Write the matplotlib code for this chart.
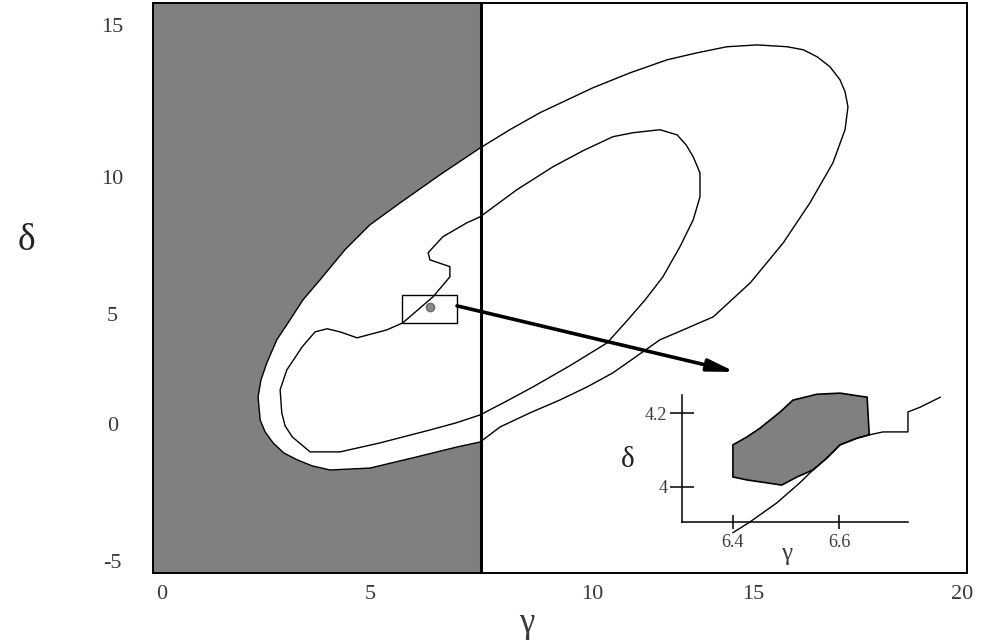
import numpy as np
import matplotlib
matplotlib.use("Agg")
import matplotlib.pyplot as plt

plt.rcParams['font.family'] = ['Liberation Serif', 'DejaVu Serif']

# ejes principales: gamma (x) y delta (y)
gamma_ticks = [0, 5, 10, 15, 20]
delta_ticks = [-5, 0, 5, 10, 15]
gamma_frontera = 7.5

# contorno exterior (region admisible)
ext_g = [12.83, 12.11, 11.40, 10.65, 9.89, 9.28, 8.60, 7.93, 7.48, 6.96, 6.06, 5.00, 4.04,
         3.61, 3.25, 2.93, 2.67, 2.48, 2.36, 2.31, 2.38, 2.52, 2.76, 3.08, 3.39, 3.80, 4.40,
         5.00, 5.68, 6.58, 7.48, 8.15, 8.83, 9.44, 10.03, 11.18, 12.33, 13.26, 14.19, 15.10,
         15.81, 16.20, 16.53, 16.84, 17.08, 17.20, 17.27, 17.20, 16.91, 16.36, 15.72, 14.91,
         13.76]
ext_d = [4.27, 3.82, 3.09, 2.32, 1.68, 1.09, 0.50, -0.11, -0.66, -0.84, -1.20, -1.61, -1.68,
         -1.53, -1.31, -1.06, -0.69, -0.29, 0.18, 1.23, 2.00, 2.77, 3.82, 4.73, 5.51, 6.24, 7.34,
         8.25, 9.05, 10.07, 10.95, 11.55, 12.11, 12.53, 12.93, 13.42, 13.85, 14.08, 14.28, 14.34,
         14.28, 14.18, 13.95, 13.62, 13.19, 12.80, 12.30, 11.55, 10.46, 9.05, 7.59, 6.13,
         4.86]

# contorno interior
int_g = [5.74, 6.42, 6.80, 6.80, 6.35, 6.31, 6.64, 7.18, 7.48, 8.31, 9.12, 9.80, 10.65, 11.27,
         12.11, 12.64, 12.92, 13.14, 13.35, 13.35, 13.14, 12.73, 12.20, 11.65, 11.06, 10.47,
         9.50, 8.67, 8.09, 7.48, 6.94, 6.35, 5.23, 4.28, 3.56, 3.13, 2.96, 2.88, 2.84, 3.00,
         3.37, 3.68, 3.97, 4.28, 4.69, 5.38]
int_d = [4.59, 5.62, 6.35, 6.72, 6.97, 7.23, 7.81, 8.32, 8.54, 9.53, 10.33, 10.86, 11.32, 11.45,
         11.55, 11.38, 11.05, 10.66, 10.13, 9.27, 8.43, 7.45, 6.35, 5.51, 4.64, 3.68,
         2.64, 1.68, 1.05, 0.41, 0.05, -0.22, -0.69, -1.02, -1.02, -0.47, -0.07, 0.50, 1.55, 2.45,
         3.50, 4.18, 4.32, 4.18, 3.91, 4.27]

# zona ampliada
caja_g = (5.72, 6.96)
caja_d = (4.59, 5.69)
punto = (6.35, 5.26)
flecha_ini = (6.96, 5.29)
flecha_fin = (14.44, 2.36)

# detalle ampliado
det_g_ticks = [6.4, 6.6]
det_d_ticks = [4.0, 4.2]
mancha_g = [6.400, 6.426, 6.451, 6.489, 6.513, 6.558, 6.602, 6.653, 6.657, 6.634, 6.602,
            6.577, 6.551, 6.521, 6.492, 6.464, 6.426, 6.400]
mancha_d = [4.114, 4.135, 4.159, 4.203, 4.235, 4.251, 4.254, 4.243, 4.141, 4.132, 4.114,
            4.078, 4.046, 4.027, 4.005, 4.011, 4.019, 4.027]
curva_g = [6.400, 6.432, 6.483, 6.526, 6.551, 6.577, 6.602, 6.634, 6.657, 6.683, 6.730,
           6.730, 6.753, 6.791]
curva_d = [3.876, 3.905, 3.957, 4.011, 4.046, 4.078, 4.114, 4.132, 4.141, 4.149, 4.149,
           4.203, 4.216, 4.243]

# las marcas del eje original no estan equiespaciadas
gamma_sep = [0, 5.2, 10.75, 14.78, 20]
delta_sep = [-5, 0.11, 4.22, 9.33, 15]


def tramos(src, dst):
    src = np.asarray(src, float)
    dst = np.asarray(dst, float)
    m0 = (dst[1] - dst[0]) / (src[1] - src[0])
    m1 = (dst[-1] - dst[-2]) / (src[-1] - src[-2])

    def f(v):
        v = np.asarray(v, float)
        out = np.interp(v, src, dst)
        out = np.where(v < src[0], dst[0] + (v - src[0]) * m0, out)
        out = np.where(v > src[-1], dst[-1] + (v - src[-1]) * m1, out)
        return out
    return f


gris = '#808080'
texto = '#3a3a3a'

fig = plt.figure(figsize=(9.82, 6.43), dpi=100)
ax = fig.add_axes([0.1558, 0.1089, 0.8289, 0.8865])
ax.set_xscale('function', functions=(tramos(gamma_ticks, gamma_sep), tramos(gamma_sep, gamma_ticks)))
ax.set_yscale('function', functions=(tramos(delta_ticks, delta_sep), tramos(delta_sep, delta_ticks)))
ax.set_xlim(-0.216, 20.12)
ax.set_ylim(-5.44, 15.72)

# zona gris a la izquierda de la frontera, salvo dentro del contorno exterior
ax.axvspan(-1, gamma_frontera, color=gris, zorder=0, lw=0)
ax.fill(ext_g, ext_d, color='white', zorder=1, lw=0)
ax.fill(ext_g, ext_d, fill=False, edgecolor='black', lw=1.0, zorder=2)
ax.fill(int_g, int_d, fill=False, edgecolor='black', lw=1.0, zorder=2)
ax.axvline(gamma_frontera, color='black', lw=2.2, zorder=3)

ax.add_patch(plt.Rectangle((caja_g[0], caja_d[0]), caja_g[1] - caja_g[0], caja_d[1] - caja_d[0],
                           fill=False, edgecolor='black', lw=1.0, zorder=4))
ax.plot(*punto, 'o', ms=6, color='#8a8a8a', mec='#6a6a6a', zorder=4)
ax.annotate('', xy=flecha_fin, xytext=flecha_ini,
            arrowprops=dict(arrowstyle='-|>,head_length=0.8,head_width=0.18', lw=2.6,
                            color='black', mutation_scale=20, shrinkA=0, shrinkB=0), zorder=5)

ax.set_xticks(gamma_ticks)
ax.set_yticks(delta_ticks)
ax.set_xticklabels([str(v) for v in gamma_ticks])
ax.set_yticklabels([str(v) for v in delta_ticks])
ax.tick_params(length=0, labelsize=16, labelcolor=texto)
ax.tick_params(axis='x', pad=9)
ax.tick_params(axis='y', pad=29)
for t in ax.get_yticklabels():
    t.set_horizontalalignment('center')
for s in ax.spines.values():
    s.set_linewidth(1.4)

ax.set_xlabel('γ', fontsize=25, color=texto, va='center')
ax.xaxis.set_label_coords(0.4595, -0.088)
ax.set_ylabel('δ', fontsize=27, rotation=0, color='#222222', va='center', ha='center')
ax.yaxis.set_label_coords(-0.155, 0.582)

# detalle de la zona recuadrada
ax2 = fig.add_axes([0.6945, 0.1882, 0.2301, 0.1975])
ax2.set_facecolor('none')
ax2.set_xlim(6.304, 6.730)
ax2.set_ylim(3.905, 4.249)
ax2.fill(mancha_g, mancha_d, facecolor=gris, edgecolor='black', lw=1.2, clip_on=False)
ax2.plot(curva_g, curva_d, color='black', lw=1.0, clip_on=False)
ax2.spines['top'].set_visible(False)
ax2.spines['right'].set_visible(False)
for s in ('left', 'bottom'):
    ax2.spines[s].set_linewidth(1.1)
ax2.set_xticks(det_g_ticks)
ax2.set_yticks(det_d_ticks)
ax2.set_xticklabels(['6.4', '6.6'])
ax2.set_yticklabels(['4.2' if v == 4.2 else '4' for v in det_d_ticks])
ax2.tick_params(direction='inout', width=1.1, labelsize=13, labelcolor=texto)
ax2.tick_params(axis='y', length=17, pad=2)
ax2.tick_params(axis='x', length=9.5, pad=4)
ax2.set_xlabel('γ', fontsize=18, color=texto, va='center')
ax2.xaxis.set_label_coords(0.464, -0.25)
ax2.set_ylabel('δ', fontsize=21, rotation=0, color='#222222', va='center', ha='center')
ax2.yaxis.set_label_coords(-0.24, 0.49)

fig.savefig('out.png', dpi=100)
